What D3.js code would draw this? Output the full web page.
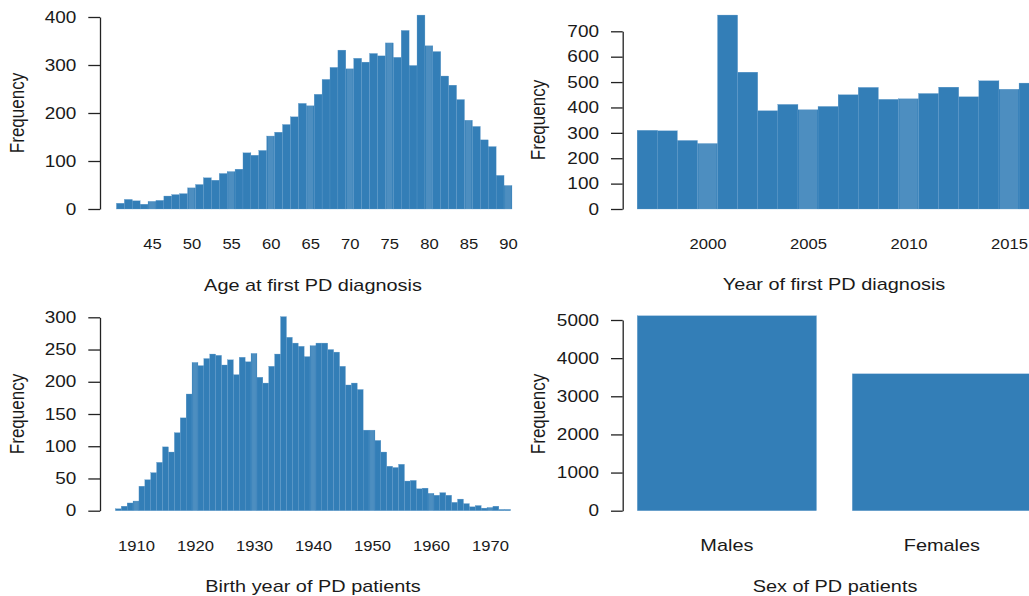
<!DOCTYPE html>
<html>
<head>
<meta charset="utf-8">
<script src="https://cdn.jsdelivr.net/npm/d3@7"></script>
<style>
  html, body { margin: 0; padding: 0; background: #fff; }
  svg { display: block; }
  text { font-family: "Liberation Sans", Arial, sans-serif; fill: #1a1a1a; }
</style>
</head>
<body>
<svg id="chart" width="1029" height="596"></svg>
<script>
// ---------- DATA ----------
const ageBins = d3.range(41, 91);
const ageCounts = [12, 20, 17, 10, 16, 18, 27, 30, 32, 44,
                   51, 65, 60, 74, 78, 83, 117, 112, 122, 152,
                   160, 176, 192, 220, 215, 239, 270, 295, 331, 292,
                   314, 306, 324, 319, 346, 316, 372, 299, 404, 340,
                   328, 277, 258, 228, 185, 172, 144, 130, 70, 49];
const ageTicks = [45, 50, 55, 60, 65, 70, 75, 80, 85, 90];
const ageYTicks = [0, 100, 200, 300, 400];

const yearBins = d3.range(1997, 2017);
const yearCounts = [310, 308, 270, 258, 764, 539, 387, 412, 391, 404,
                    450, 479, 432, 434, 455, 480, 442, 505, 472, 496];
const yearTicks = [2000, 2005, 2010, 2015];
const yearYTicks = [0, 100, 200, 300, 400, 500, 600, 700];

const birthBins = d3.range(1907, 1974);
const birthCounts = [3, 7, 12, 15, 38, 48, 59, 75, 99, 91,
                     121, 144, 181, 230, 225, 236, 243, 241, 226, 234,
                     211, 238, 231, 244, 207, 198, 224, 243, 301, 269,
                     260, 255, 239, 256, 260, 260, 250, 246, 224, 195,
                     198, 188, 125, 125, 109, 91, 69, 67, 72, 46,
                     47, 34, 35, 27, 24, 28, 24, 13, 18, 11,
                     6, 8, 4, 5, 7, 2, 2];
const birthTicks = [1910, 1920, 1930, 1940, 1950, 1960, 1970];
const birthYTicks = [0, 50, 100, 150, 200, 250, 300];

const sexCategories = ["Males", "Females"];
const sexCounts = [5110, 3588];
const sexYTicks = [0, 1000, 2000, 3000, 4000, 5000];

// ---------- STYLE ----------
const BAR = "#337eb7";
const SX = 1.17;           // horizontal text stretch
const YTICK_FS = 16.2;
const XTICK_FS = 14.2;
const TITLE_FS = 17;

const svg = d3.select("#chart");

function stretchedText(g, x, y, str, fs, anchor) {
  return g.append("text")
    .attr("transform", `translate(${x},${y}) scale(${SX},1)`)
    .attr("text-anchor", anchor || "middle")
    .style("font-size", fs + "px")
    .text(str);
}

function yAxis(g, scale, ticks, x0) {
  const ax = g.append("g")
    .attr("transform", `translate(${x0},0)`)
    .call(d3.axisLeft(scale).tickValues(ticks).tickSize(11.7).tickSizeOuter(0).tickPadding(12).tickFormat(d3.format("d")));
  ax.selectAll("path.domain").attr("stroke", "#222").attr("stroke-width", 1.3);
  ax.selectAll(".tick line").attr("stroke", "#222").attr("stroke-width", 1.3);
  ax.selectAll(".tick text").each(function () {
    const t = d3.select(this);
    const x = +t.attr("x");
    t.attr("x", 0).attr("transform", `translate(${x},0) scale(${SX},1)`)
     .style("font-size", YTICK_FS + "px").attr("fill", "#1a1a1a");
  });
  ax.attr("font-family", null).attr("font-size", null);
}

function xAxisLabels(g, scale, ticks, y0, fs) {
  const axis = d3.axisBottom(scale).tickSize(0);
  if (ticks) axis.tickValues(ticks).tickFormat(d3.format("d"));
  const ax = g.append("g").attr("transform", `translate(0,${y0})`).call(axis);
  ax.select("path.domain").remove();
  ax.selectAll(".tick line").remove();
  ax.selectAll(".tick text").each(function () {
    d3.select(this).attr("y", 0).attr("dy", null)
      .attr("transform", `translate(0,40.3) scale(${SX},1)`)
      .style("font-size", fs + "px").attr("fill", "#1a1a1a");
  });
  ax.attr("font-family", null).attr("font-size", null);
}

function yTitle(g, x, y) {
  g.append("text")
    .attr("transform", `translate(${x},${y}) scale(${SX},1) rotate(-90)`)
    .attr("text-anchor", "middle")
    .style("font-size", TITLE_FS + "px")
    .text("Frequency");
}

function histogram(g, bins, counts, x, y, ticks) {
  const data = bins.map((b, i) => ({ b, v: counts[i] }));
  g.append("g").selectAll("rect").data(data).join("rect")
    .attr("x", d => x(d.b - 0.5))
    .attr("width", d => x(d.b + 0.5) - x(d.b - 0.5))
    .attr("y", d => y(d.v))
    .attr("height", d => y(0) - y(d.v))
    .attr("fill", BAR)
    .attr("stroke", "#5c98c9")
    .attr("stroke-width", 0.3);
  // lighter bars where x ticks fall
  const hl = data.filter(d => ticks.includes(d.b));
  g.append("g").selectAll("rect").data(hl).join("rect")
    .attr("x", d => x(d.b - 0.5) + 1)
    .attr("width", d => x(d.b + 0.5) - x(d.b - 0.5) - 2)
    .attr("y", d => y(d.v))
    .attr("height", d => y(0) - y(d.v))
    .attr("fill", "#ffffff")
    .attr("fill-opacity", 0.13);
}

// ---------- PANEL 1: Age ----------
{
  const g = svg.append("g");
  const x = d3.scaleLinear().domain([45, 90]).range([152, 508]);
  const y = d3.scaleLinear().domain([0, 400]).range([209, 17]);
  histogram(g, ageBins, ageCounts, x, y, ageTicks);
  yAxis(g, y, ageYTicks, 100);
  xAxisLabels(g, x, ageTicks, 209, XTICK_FS);
  yTitle(g, 24, 113);
  stretchedText(g, 313, 290.7, "Age at first PD diagnosis", TITLE_FS);
}

// ---------- PANEL 2: Year ----------
{
  const g = svg.append("g");
  const x = d3.scaleLinear().domain([2000, 2015]).range([707.5, 1009]);
  const y = d3.scaleLinear().domain([0, 700]).range([209, 31.3]);
  histogram(g, yearBins, yearCounts, x, y, yearTicks);
  yAxis(g, y, yearYTicks, 622.7);
  xAxisLabels(g, x, yearTicks, 209, XTICK_FS);
  yTitle(g, 544.5, 120);
  stretchedText(g, 834, 289.5, "Year of first PD diagnosis", TITLE_FS);
}

// ---------- PANEL 3: Birth year ----------
{
  const g = svg.append("g");
  const x = d3.scaleLinear().domain([1910, 1970]).range([136, 490]);
  const y = d3.scaleLinear().domain([0, 300]).range([510.7, 317.3]);
  histogram(g, birthBins, birthCounts, x, y, birthTicks);
  yAxis(g, y, birthYTicks, 100);
  xAxisLabels(g, x, birthTicks, 510.4, XTICK_FS);
  yTitle(g, 24, 414);
  stretchedText(g, 313, 592, "Birth year of PD patients", TITLE_FS);
}

// ---------- PANEL 4: Sex ----------
{
  const g = svg.append("g");
  const x = d3.scaleBand().domain(sexCategories).range([637.3, 637.3 + 215 * (2 - 1 / 6)]).paddingInner(1 / 6).paddingOuter(0);
  const y = d3.scaleLinear().domain([0, 5000]).range([510.7, 320]);
  g.append("g").selectAll("rect").data(sexCategories).join("rect")
    .attr("x", d => x(d))
    .attr("width", x.bandwidth())
    .attr("y", (d, i) => y(sexCounts[i]))
    .attr("height", (d, i) => y(0) - y(sexCounts[i]))
    .attr("fill", BAR)
    .attr("stroke", "#5c98c9")
    .attr("stroke-width", 0.3);
  yAxis(g, y, sexYTicks, 622.7);
  xAxisLabels(g, x, null, 510.4, TITLE_FS);
  yTitle(g, 544.5, 414);
  stretchedText(g, 835, 592.3, "Sex of PD patients", TITLE_FS);
}
</script>
</body>
</html>
